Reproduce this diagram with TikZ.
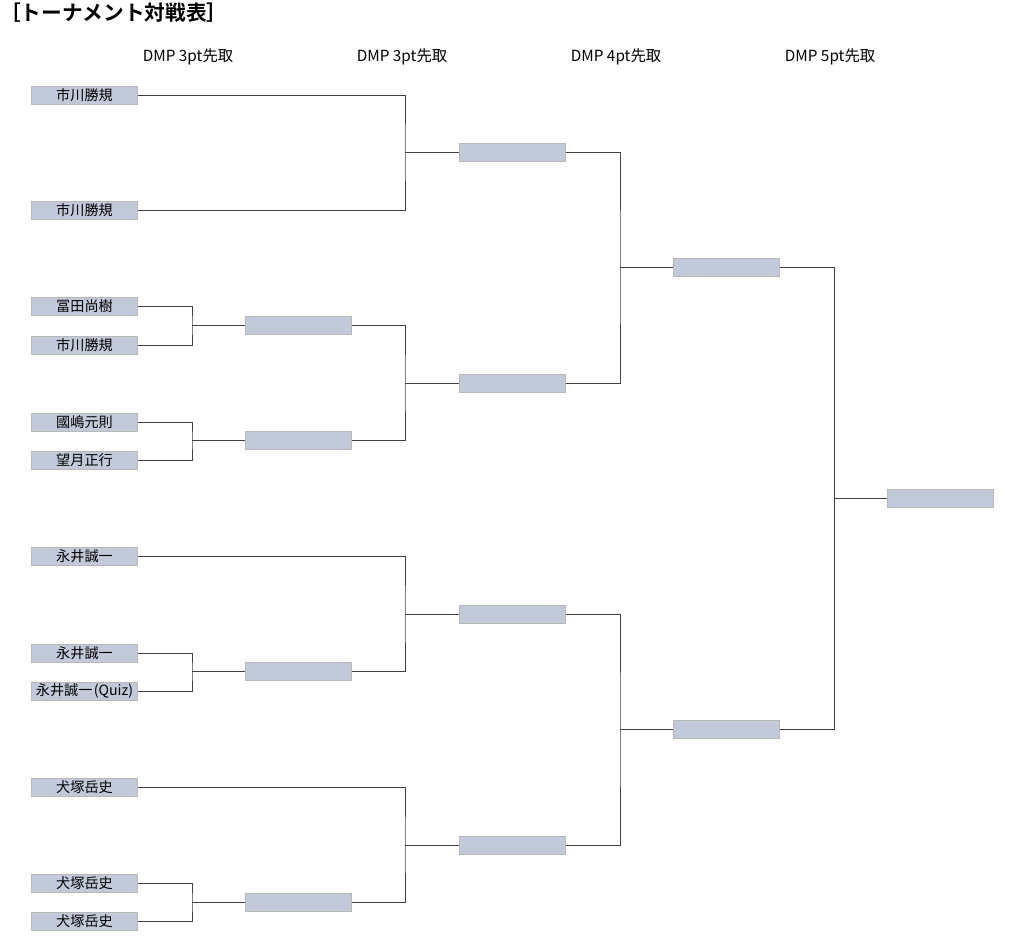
\documentclass[tikz,border=0pt]{standalone}
\usepackage{fontspec}
\setmainfont{Noto Sans CJK JP}
\newfontfamily\titlefont{Noto Sans CJK JP Bold}
\usetikzlibrary{positioning}
\definecolor{boxfill}{HTML}{C2CADA}
\definecolor{boxline}{HTML}{B8B8B8}
\definecolor{wirecol}{HTML}{404040}
\tikzset{
  slot/.style={draw=boxline,fill=boxfill,line width=0.6pt,minimum width=80pt,
    minimum height=13.5pt,inner sep=0pt,font=\fontsize{10.6}{10.6}\selectfont},
  wire/.style={draw=wirecol,line width=0.6pt},
  roundhead/.style={font=\fontsize{11.5}{11.5}\selectfont}
}

\begin{document}
\begin{tikzpicture}[x=0.75pt,y=-0.75pt]
  \useasboundingbox (0,0) rectangle (1024,938);
  \node[anchor=north west,inner sep=0pt,font=\titlefont\fontsize{15.5}{15.5}\selectfont] (title) at (0,3) {［トーナメント対戦表］};
  % round headings
  \node[roundhead] (h1) at (188,57) {DMP 3pt先取};
  \node[roundhead] (h2) at (402,57) {DMP 3pt先取};
  \node[roundhead] (h3) at (616,57) {DMP 4pt先取};
  \node[roundhead] (h4) at (830,57) {DMP 5pt先取};
  % entrants
  \node[slot] (p1) at (84.5,95) {市川勝規};
  \node[slot] (p2) at (84.5,210) {市川勝規};
  \node[slot] (p3) at (84.5,306) {冨田尚樹};
  \node[slot] (p4) at (84.5,345) {市川勝規};
  \node[slot] (p5) at (84.5,422) {國嶋元則};
  \node[slot] (p6) at (84.5,460) {望月正行};
  \node[slot] (p7) at (84.5,556) {永井誠一};
  \node[slot] (p8) at (84.5,653) {永井誠一};
  \node[slot] (p9) at (84.5,691) {永井誠一\kern1pt(Quiz)};
  \node[slot] (p10) at (84.5,787) {犬塚岳史};
  \node[slot] (p11) at (84.5,883) {犬塚岳史};
  \node[slot] (p12) at (84.5,921) {犬塚岳史};
  % later rounds
  \node[slot] (r2a) at (298.5,325) {};
  \node[slot] (r2b) at (298.5,440) {};
  \node[slot] (r2c) at (298.5,671) {};
  \node[slot] (r2d) at (298.5,902) {};
  \node[slot] (r3a) at (512.5,152) {};
  \node[slot] (r3b) at (512.5,383) {};
  \node[slot] (r3c) at (512.5,614) {};
  \node[slot] (r3d) at (512.5,845) {};
  \node[slot] (r4a) at (726.5,267) {};
  \node[slot] (r4b) at (726.5,729) {};
  \node[slot] (r5) at (940.5,498) {};
  % junctions
  \coordinate (j2a) at (192,325);
  \coordinate (j2b) at (192,440);
  \coordinate (j2c) at (192,671);
  \coordinate (j2d) at (192,902);
  \coordinate (j3a) at (405,152);
  \coordinate (j3b) at (405,383);
  \coordinate (j3c) at (405,614);
  \coordinate (j3d) at (405,845);
  \coordinate (j4a) at (620,267);
  \coordinate (j4b) at (620,729);
  \coordinate (j5) at (834,498);
  % brackets
  \draw[wire] (p3.east) -| (j2a) |- (p4.east);
  \draw[wire] (j2a) -- (r2a.west);
  \draw[wire] (p5.east) -| (j2b) |- (p6.east);
  \draw[wire] (j2b) -- (r2b.west);
  \draw[wire] (p8.east) -| (j2c) |- (p9.east);
  \draw[wire] (j2c) -- (r2c.west);
  \draw[wire] (p11.east) -| (j2d) |- (p12.east);
  \draw[wire] (j2d) -- (r2d.west);
  \draw[wire] (p1.east) -| (j3a) |- (p2.east);
  \draw[wire] (j3a) -- (r3a.west);
  \draw[wire] (r2a.east) -| (j3b) |- (r2b.east);
  \draw[wire] (j3b) -- (r3b.west);
  \draw[wire] (p7.east) -| (j3c) |- (r2c.east);
  \draw[wire] (j3c) -- (r3c.west);
  \draw[wire] (p10.east) -| (j3d) |- (r2d.east);
  \draw[wire] (j3d) -- (r3d.west);
  \draw[wire] (r3a.east) -| (j4a) |- (r3b.east);
  \draw[wire] (j4a) -- (r4a.west);
  \draw[wire] (r3c.east) -| (j4b) |- (r3d.east);
  \draw[wire] (j4b) -- (r4b.west);
  \draw[wire] (r4a.east) -| (j5) |- (r4b.east);
  \draw[wire] (j5) -- (r5.west);
\end{tikzpicture}
\end{document}
